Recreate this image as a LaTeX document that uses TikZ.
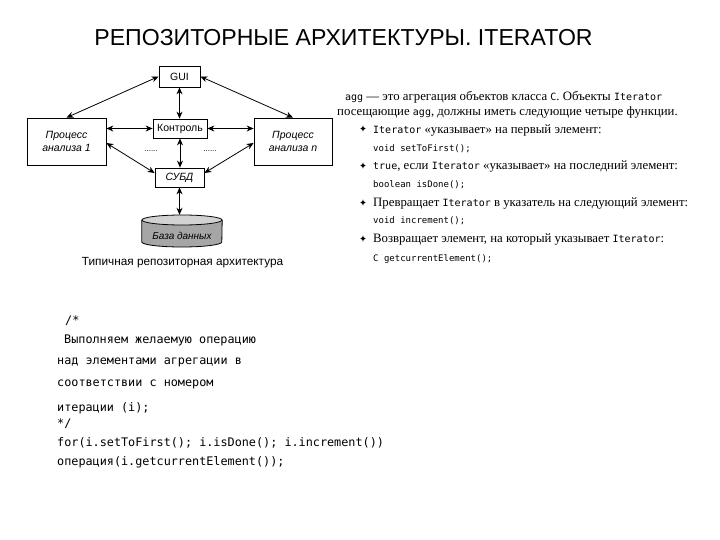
\documentclass[tikz,border=0pt]{standalone}
\usepackage{fontspec}
\setmainfont{Liberation Serif}
\setsansfont{Liberation Sans}
\setmonofont{DejaVu Sans Mono}
\newfontfamily\symf{DejaVu Sans}
\usetikzlibrary{arrows.meta,calc}
\tikzset{
 box/.style={draw, line width=0.8pt, inner sep=0pt, font=\sffamily\fontsize{10.5}{12}\selectfont},
 ibox/.style={box, font=\sffamily\itshape\fontsize{10.5}{12.5}\selectfont, align=center},
 link/.style={line width=0.8pt, {Stealth[length=7pt,width=6pt]}-{Stealth[length=7pt,width=6pt]}},
 rtext/.style={anchor=base west, inner sep=0pt, font=\fontsize{12.8}{14}\selectfont},
 ctext/.style={anchor=base west, inner sep=0pt, font=\ttfamily\fontsize{11.8}{13}\selectfont},
 bul/.style={inner sep=0pt, font=\symf\fontsize{9.5}{9.5}\selectfont},
 dots/.style={inner sep=0pt, font=\sffamily\fontsize{8}{8}\selectfont},
}
\newcommand{\cw}[1]{{\ttfamily\fontsize{10}{11}\selectfont #1}}
\newcommand{\cl}[1]{{\ttfamily\fontsize{9}{10}\selectfont #1}}
\begin{document}
\begin{tikzpicture}[x=1pt,y=-1pt]
\useasboundingbox (0,0) rectangle (720,540);
\node[anchor=base, inner sep=0pt, font=\sffamily\fontsize{23.1}{26}\selectfont] (title) at (343.5,46) {РЕПОЗИТОРНЫЕ АРХИТЕКТУРЫ. ITERATOR};

% diagram
\node[box, minimum width=41, minimum height=21] (gui) at (179.5,76.5) {GUI};
\node[box, minimum width=54, minimum height=19] (ctrl) at (180,128.5) {Контроль};
\node[ibox, minimum width=79, minimum height=47] (p1) at (66.5,141.5) {Процесс\\анализа 1};
\node[ibox, minimum width=78, minimum height=47] (pn) at (293,141.5) {Процесс\\анализа \textit{n}};
\node[ibox, minimum width=49, minimum height=19] (subd) at (179.5,177.5) {СУБД};
\node[minimum width=80, minimum height=32, inner sep=0pt] (db) at (182,231) {};

% cylinder
\path[fill=gray!70] (db.west |- 0,220) -- (db.west |- 0,242)
  arc[start angle=180,end angle=360,x radius=40pt,y radius=5pt]
  -- (db.east |- 0,220) -- cycle;
\draw[line width=0.8pt, fill=gray!35] (db.north |- 0,220) ellipse[x radius=40pt, y radius=5pt];
\draw[line width=0.8pt] (db.west |- 0,220) -- (db.west |- 0,242)
  arc[start angle=180,end angle=360,x radius=40pt,y radius=5pt]
  -- (db.east |- 0,220);
\node[inner sep=0pt, font=\sffamily\itshape\fontsize{10}{12}\selectfont] (dbt) at (182,236) {База данных};

\draw[link] (gui.west) -- (p1.north);
\draw[link] (gui.east) -- (pn.north);
\draw[link] (gui.south) -- (gui.south |- ctrl.north);
\draw[link] (ctrl.west) -- (ctrl.west -| p1.east);
\draw[link] (ctrl.east) -- (ctrl.east -| pn.west);
\draw[link] ([yshift=-1.5pt]p1.east) -- ([yshift=4.5pt]subd.west);
\draw[link] ([yshift=-1.5pt]pn.west) -- ([yshift=4.5pt]subd.east);
\draw[link] (ctrl.south) -- (ctrl.south |- subd.north);
\draw[link] (subd.south) -- (subd.south |- db.north);
\node[dots] (d1) at (151,151) {......};
\node[dots] (d2) at (210,151) {......};

\node[inner sep=0pt, font=\sffamily\fontsize{11.8}{13}\selectfont] (cap) at (182.5,263) {Типичная репозиторная архитектура};

% right text
\node[rtext] (l1) at (345,101) {\cw{agg} — это агрегация объектов класса \cw{C}. Объекты \cw{Iterator}};
\node[rtext] (l2) at (337,116) {посещающие \cw{agg}, должны иметь следующие четыре функции.};
\node[bul] (s1) at (363,129) {✦};
\node[rtext] (b1) at (373,134) {\cw{Iterator} «указывает» на первый элемент:};
\node[rtext] (c1) at (373,152) {\cl{void setToFirst();}};
\node[bul] (s2) at (363,166) {✦};
\node[rtext] (b2) at (373,170) {\cw{true}, если \cw{Iterator} «указывает» на последний элемент:};
\node[rtext] (c2) at (373,188) {\cl{boolean isDone();}};
\node[bul] (s3) at (363,203) {✦};
\node[rtext] (b3) at (373,207) {Превращает \cw{Iterator} в указатель на следующий элемент:};
\node[rtext] (c3) at (373,224) {\cl{void increment();}};
\node[bul] (s4) at (363,239) {✦};
\node[rtext] (b4) at (373,243) {Возвращает элемент, на который указывает \cw{Iterator}:};
\node[rtext] (c4) at (373,261) {\cl{C getcurrentElement();}};

% code block
\node[ctext] (k1) at (65,324) {/*};
\node[ctext] (k2) at (64,343) {Выполняем желаемую операцию};
\node[ctext] (k3) at (57,364) {над элементами агрегации в};
\node[ctext] (k4) at (57,386) {соответствии с номером};
\node[ctext] (k5) at (57,411) {итерации (i);};
\node[ctext] (k6) at (57,427) {*/};
\node[ctext] (k7) at (57,446) {for(i.setToFirst(); i.isDone(); i.increment())};
\node[ctext] (k8) at (57,465) {операция(i.getcurrentElement());};
\end{tikzpicture}
\end{document}
